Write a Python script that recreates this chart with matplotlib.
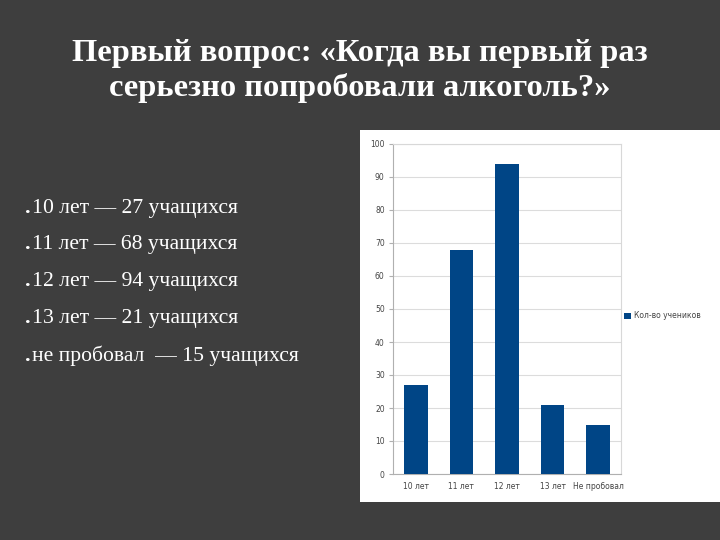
import matplotlib
matplotlib.use("Agg")
import matplotlib.pyplot as plt
from matplotlib.patches import Rectangle

categories = ["10 лет", "11 лет", "12 лет", "13 лет", "Не пробовал"]
values = [27, 68, 94, 21, 15]
series_name = "Кол-во учеников"
yticks = list(range(0, 101, 10))
title = "Первый вопрос: «Когда вы первый раз\nсерьезно попробовали алкоголь?»"
bullets = ["10 лет — 27 учащихся", "11 лет — 68 учащихся", "12 лет — 94 учащихся",
           "13 лет — 21 учащихся", "не пробовал  — 15 учащихся"]

fig = plt.figure(figsize=(7.2, 5.4), dpi=100)
fig.patch.set_facecolor("#3e3e3e")

# white chart panel
fig.patches.append(Rectangle((360/720, 1 - 502/540), 0.5, (502-130)/540,
                             transform=fig.transFigure, facecolor="white",
                             edgecolor="none", zorder=-5))

fig.text(0.5, 1 - 71/540, title, ha="center", va="center", color="white",
         fontsize=23.4, fontweight="bold", family="Liberation Serif",
         linespacing=1.22)

baselines = [213, 249, 286, 323, 361]
for y, t in zip(baselines, bullets):
    fig.text(25/720, 1 - y/540, ".", ha="left", va="baseline", color="white",
             fontsize=16, fontweight="bold", family="Liberation Serif")
    fig.text(32/720, 1 - y/540, t, ha="left", va="baseline", color="white",
             fontsize=15.6, family="Liberation Serif")

ax = fig.add_axes([393/720, 1 - 474/540, (621-393)/720, (474-144)/540])
ax.set_facecolor("white")
x = range(len(categories))
ax.bar(x, values, width=0.52, color="#004586", zorder=3, label=series_name)
ax.set_xlim(-0.5, len(categories) - 0.5)
ax.set_ylim(0, 100)
ax.set_yticks(yticks)
ax.set_xticks(list(x))
ax.set_xticklabels(categories)
ax.grid(axis="y", color="#dcdcdc", linewidth=0.8, zorder=0)
for s in ax.spines.values():
    s.set_color("#d8d8d8")
    s.set_linewidth(0.8)
ax.spines["left"].set_color("#b0b0b0")
ax.spines["bottom"].set_color("#b0b0b0")
ax.tick_params(axis="y", length=3, color="#b0b0b0", labelsize=5.5, labelcolor="#444444", pad=3)
ax.tick_params(axis="x", length=0, labelsize=5.5, labelcolor="#444444", pad=6)

ax.legend(loc="center left", bbox_to_anchor=(1.015, 0.479), frameon=False,
          fontsize=5.5, borderaxespad=0, borderpad=0, handlelength=0.8,
          handleheight=0.8, handletextpad=0.4, labelcolor="#444444")

fig.savefig("out.png", dpi=100, facecolor=fig.get_facecolor())
